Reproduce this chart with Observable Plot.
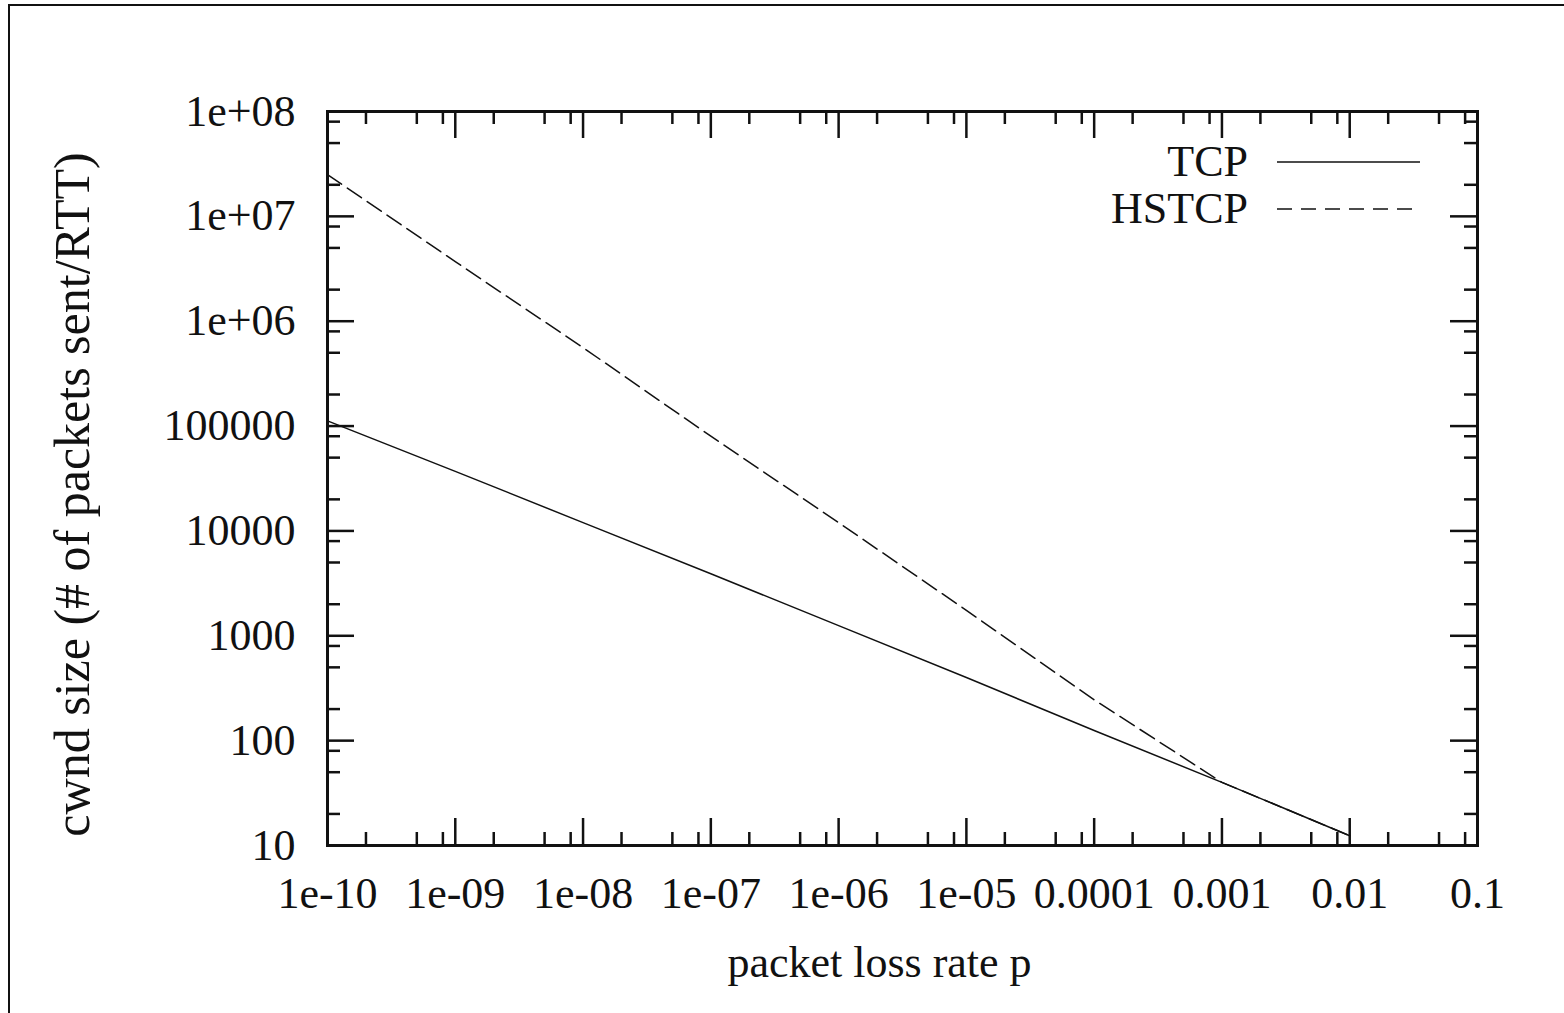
<!DOCTYPE html>
<html><head><meta charset="utf-8">
<script src="https://cdn.jsdelivr.net/npm/d3@7"></script>
<script src="https://cdn.jsdelivr.net/npm/@observablehq/plot@0.6"></script>
<style>
html,body{margin:0;padding:0;background:#fff;overflow:hidden}
#wrap{position:relative;width:1564px;height:1013px}
#frame{position:absolute;z-index:5;left:8px;top:4px;width:1600px;height:1100px;border-left:2px solid #111;border-top:2px solid #111;pointer-events:none}
</style></head><body><div id="wrap"><div id="frame"></div></div>
<script>
// ---- data ----
const lossRates = [1e-10, 1e-9, 1e-8, 1e-7, 1e-6, 1e-5, 1e-4, 1e-3, 1e-2];
const tcpCwnd   = [112000, 37000, 12000, 3900, 1250, 400, 125, 40, 12.4];
const hstcpCwnd = [25000000, 3700000, 560000, 80000, 12000, 1750, 245, 40, 12.4];
const seriesNames = ["TCP", "HSTCP"];
const xTickValues = [1e-10, 1e-9, 1e-8, 1e-7, 1e-6, 1e-5, 1e-4, 1e-3, 1e-2, 1e-1];
const xTickLabels = ["1e-10", "1e-09", "1e-08", "1e-07", "1e-06", "1e-05", "0.0001", "0.001", "0.01", "0.1"];
const yTickValues = [10, 100, 1000, 10000, 100000, 1e6, 1e7, 1e8];
const yTickLabels = ["10", "100", "1000", "10000", "100000", "1e+06", "1e+07", "1e+08"];
const minorMultipliers = [2, 5, 8];
const xLabel = "packet loss rate p";
const yLabel = "cwnd size (# of packets sent/RTT)";

// ---- build tables ----
const tcpRows = lossRates.map((p, i) => ({series: seriesNames[0], p, w: tcpCwnd[i]}));
const hstcpRows = lossRates.map((p, i) => ({series: seriesNames[1], p, w: hstcpCwnd[i]}));
const xMinor = xTickValues.slice(0, -1).flatMap(d => minorMultipliers.map(m => d * m));
const yMinor = yTickValues.slice(0, -1).flatMap(d => minorMultipliers.map(m => d * m));

const W = 1564, H = 1013, mL = 327, mR = 87, mT = 111, mB = 168;
const fw = W - mL - mR, fh = H - mT - mB;
const MAJ = 27, MIN = 13, TW = 2.5;
const ink = "#111";

const chart = Plot.plot({
  width: W, height: H,
  marginLeft: mL, marginRight: mR, marginTop: mT, marginBottom: mB,
  style: {fontFamily: "'Liberation Serif', 'Times New Roman', serif", fontSize: "44px", color: ink, background: "white"},
  x: {type: "log", domain: [1e-10, 0.1]},
  y: {type: "log", domain: [10, 1e8]},
  marks: [
    // ticks (inward, mirrored on all four sides)
    Plot.ruleX(xTickValues, {stroke: ink, strokeWidth: TW, insetTop: fh - MAJ}),
    Plot.ruleX(xTickValues, {stroke: ink, strokeWidth: TW, insetBottom: fh - MAJ}),
    Plot.ruleX(xMinor, {stroke: ink, strokeWidth: TW, insetTop: fh - MIN}),
    Plot.ruleX(xMinor, {stroke: ink, strokeWidth: TW, insetBottom: fh - MIN}),
    Plot.ruleY(yTickValues, {stroke: ink, strokeWidth: TW, insetRight: fw - MAJ}),
    Plot.ruleY(yTickValues, {stroke: ink, strokeWidth: TW, insetLeft: fw - MAJ}),
    Plot.ruleY(yMinor, {stroke: ink, strokeWidth: TW, insetRight: fw - MIN}),
    Plot.ruleY(yMinor, {stroke: ink, strokeWidth: TW, insetLeft: fw - MIN}),
    Plot.axisX(xTickValues, {tickSize: 0, tickPadding: 31, label: null, fontSize: 44,
      tickFormat: d => xTickLabels[xTickValues.indexOf(d)]}),
    Plot.axisY(yTickValues, {tickSize: 0, tickPadding: 32, label: null, fontSize: 44,
      tickFormat: d => yTickLabels[yTickValues.indexOf(d)]}),
    // data
    Plot.line(tcpRows, {x: "p", y: "w", stroke: ink, strokeWidth: 1.5}),
    Plot.line(hstcpRows, {x: "p", y: "w", stroke: ink, strokeWidth: 1.5, strokeDasharray: "17,7"}),
    Plot.frame({stroke: ink, strokeWidth: 3}),
    // axis titles
    Plot.text([xLabel], {text: d => d, frameAnchor: "bottom", textAnchor: "middle", dx: -23, dy: 131, fontSize: 44}),
    Plot.text([yLabel], {text: d => d, frameAnchor: "left", textAnchor: "middle", rotate: -90, dx: -255, dy: 16, fontSize: 50})
  ]
});

// legend (gnuplot style, inside top-right of frame)
const svg = d3.select(chart);
const lg = svg.append("g").attr("font-family", "'Liberation Serif', 'Times New Roman', serif").attr("font-size", 44).attr("fill", ink);
const right = W - mR;
const entries = [
  {name: seriesNames[0], dash: null, y: mT + 51},
  {name: seriesNames[1], dash: "15,9", y: mT + 98}
];
entries.forEach(e => {
  lg.append("text").attr("x", right - 229).attr("y", e.y).attr("dy", "0.32em").attr("text-anchor", "end").text(e.name);
  lg.append("line").attr("x1", right - 200).attr("x2", right - 57).attr("y1", e.y).attr("y2", e.y)
    .attr("stroke", ink).attr("stroke-width", 1.5).attr("stroke-dasharray", e.dash);
});

document.getElementById("wrap").appendChild(chart);
chart.style.position = "absolute";
chart.style.left = "0px";
chart.style.top = "0px";
</script>
</body></html>
